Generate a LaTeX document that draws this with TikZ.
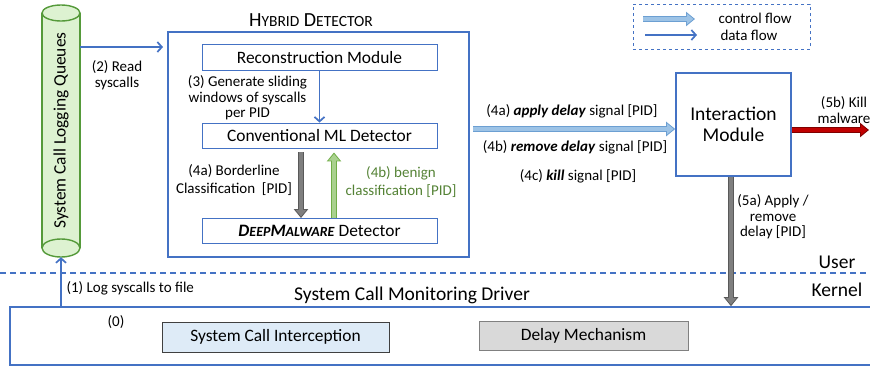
\documentclass[tikz,border=0pt]{standalone}
\usepackage{fontspec}
\setmainfont{Carlito}
\usetikzlibrary{arrows.meta}

\definecolor{boxblue}{HTML}{4472C4}
\definecolor{ctrlfill}{HTML}{9DC3E6}
\definecolor{ctrlline}{HTML}{6C9FD2}
\definecolor{grayfill}{HTML}{7F7F7F}
\definecolor{grayline}{HTML}{595959}
\definecolor{greenfill}{HTML}{A9D18E}
\definecolor{greenline}{HTML}{70AD47}
\definecolor{greentext}{HTML}{548235}
\definecolor{redfill}{HTML}{C00000}
\definecolor{redline}{HTML}{7F0000}
\definecolor{qfill}{HTML}{DDF2D1}
\definecolor{qline}{HTML}{559A3A}
\definecolor{intfill}{HTML}{DEEBF7}
\definecolor{delayfill}{HTML}{D9D9D9}

\newcommand{\lblfont}{\fontsize{15}{15.5}\selectfont}
\newcommand{\boxfont}{\fontsize{17.4}{19}\selectfont}
\newcommand{\bigfont}{\fontsize{19.5}{21}\selectfont}
\newcommand{\fakesc}[3]{#1{\fontsize{#3}{#3}\selectfont#2}}

\tikzset{
  module/.style={draw=boxblue, line width=0.9pt, fill=white, minimum width=235pt, minimum height=26pt, font=\boxfont},
  frame/.style={draw=boxblue, line width=1.6pt},
  lbl/.style={font=\lblfont, align=center},
  data/.style={draw=boxblue, line width=1.7pt, -{Straight Barb[length=4.5pt,width=10pt]}},
  blockarrow/.style 2 args={draw=#1, line width=6.5pt, -{Triangle[length=9pt,width=14pt]},
    postaction={draw=#2, line width=4.3pt, -{Triangle[length=6.6pt,width=10.5pt]}, shorten >=1.6pt}},
  ctrlarrow/.style={blockarrow={ctrlline}{ctrlfill}},
  grayarrow/.style={blockarrow={grayline}{grayfill}},
}

\begin{document}
\begin{tikzpicture}[x=1pt,y=-1pt]
\useasboundingbox (0,0) rectangle (870,368);
\clip (0,0) rectangle (870,368);

% user / kernel boundary
\draw[boxblue, line width=1.5pt, dash pattern=on 6pt off 4pt] (0,273) -- (870,273);
\node[font=\bigfont] (user) at (837,262) {User};
\node[font=\bigfont] (kernel) at (837,290) {Kernel};

% logging queues
\fill[qfill] (42,13) rectangle (80,248);
\draw[qline, line width=1.4pt] (42,13) -- (42,248) (80,13) -- (80,248);
\draw[qline, line width=1.4pt, fill=qfill] (61,13) ellipse (19 and 8);
\draw[qline, line width=1.4pt, fill=qfill] (61,248) ellipse (19 and 9);
\node[rotate=90, minimum width=253pt, minimum height=38pt, inner sep=0pt, font=\boxfont] (queue) at (61,130.5) {System Call Logging Queues};

% hybrid detector
\node[frame, minimum width=301pt, minimum height=225pt] (hybrid) at (318.5,144.5) {};
\node[font=\fontsize{20}{22}\selectfont] (htitle) at (311,20) {\fakesc{H}{YBRID}{15.5} \fakesc{D}{ETECTOR}{15.5}};
\node[module] (recon) at (319.5,57.5) {Reconstruction Module};
\node[module, minimum height=25pt] (conv) at (319.5,135.5) {Conventional ML Detector};
\node[module, minimum height=25pt] (deep) at (319.5,231) {\textbf{\textit{\fakesc{D}{EEP}{14}\fakesc{M}{ALWARE}{14}}} Detector};
\draw[data] (recon.south) -- (conv.north);
\node[lbl] (gen) at (247.5,98) {(3) Generate sliding\\windows of syscalls\\per PID};
\draw[grayarrow] ([xshift=-18.5pt,yshift=-4pt]conv.south) -- ([xshift=-18.5pt]deep.north);
\draw[blockarrow={greenline}{greenfill}] ([xshift=14.5pt]deep.north) -- ([xshift=14.5pt,yshift=-4pt]conv.south);
\node[lbl, font=\fontsize{15}{18}\selectfont] (border) at (234,180) {(4a) Borderline\\Classification~~[PID]};
\node[lbl, font=\fontsize{15}{18.5}\selectfont, text=greentext] (benign) at (401,182) {(4b) benign\\classification [PID]};

% read syscalls
\coordinate (rd) at (163,47);
\draw[data] (queue.south |- rd) -- (rd);
\node[lbl] (read) at (117,75) {(2) Read\\syscalls};

% interaction module
\node[frame, minimum width=115pt, minimum height=103pt, font=\bigfont, align=center] (inter) at (733.5,124.5) {Interaction\\Module};
\coordinate (sig) at (473,129);
\draw[ctrlarrow] (sig) -- (inter.west |- sig);
\node[lbl] (apply) at (572,111) {(4a) \textbf{\textit{apply delay}} signal [PID]};
\node[lbl] (remove) at (575,147) {(4b) \textbf{\textit{remove delay}} signal [PID]};
\node[lbl] (kill) at (578,176) {(4c) \textbf{\textit{kill}} signal [PID]};

\coordinate (killend) at (869,130);
\draw[blockarrow={redline}{redfill}] (inter.east |- killend) -- (killend);
\node[lbl] (killlbl) at (844,110) {(5b) Kill\\malware};

% monitoring driver
\node[frame, minimum width=870pt, minimum height=58pt] (driver) at (445,336) {};
\node[font=\bigfont] (drvtitle) at (412,295) {System Call Monitoring Driver};
\node[lbl] (zero) at (116,322) {(0)};
\node[draw=darkgray, fill=intfill, line width=0.8pt, minimum width=227pt, minimum height=30pt, font=\boxfont] (intercept) at (275.5,337) {System Call Interception};
\node[draw=gray, fill=delayfill, line width=0.8pt, minimum width=209pt, minimum height=29pt, font=\boxfont] (delay) at (583.5,335.5) {Delay Mechanism};

\draw[grayarrow] ([xshift=-2.5pt]inter.south) -- ([xshift=-2.5pt]inter.south |- driver.north);
\node[lbl] (apdel) at (773,217) {(5a) Apply /\\remove\\delay [PID]};

\draw[data] (queue.west |- driver.north) -- (queue.west);
\node[lbl, anchor=west] (log) at (63,288) {(1) Log syscalls to file};

% legend
\node[draw=boxblue, line width=0.8pt, dashed, minimum width=177pt, minimum height=45pt] (legend) at (721.5,26.5) {};
\node[lbl, anchor=west] (lctrl) at (715,18) {control flow};
\node[lbl, anchor=west] (ldata) at (717,35) {data flow};
\coordinate (c0) at (643,19);
\coordinate (c1) at (695,19);
\coordinate (d0) at (645,35);
\coordinate (d1) at (697,35);
\draw[ctrlarrow] (c0) -- (c1);
\draw[data] (d0) -- (d1);
\end{tikzpicture}
\end{document}
